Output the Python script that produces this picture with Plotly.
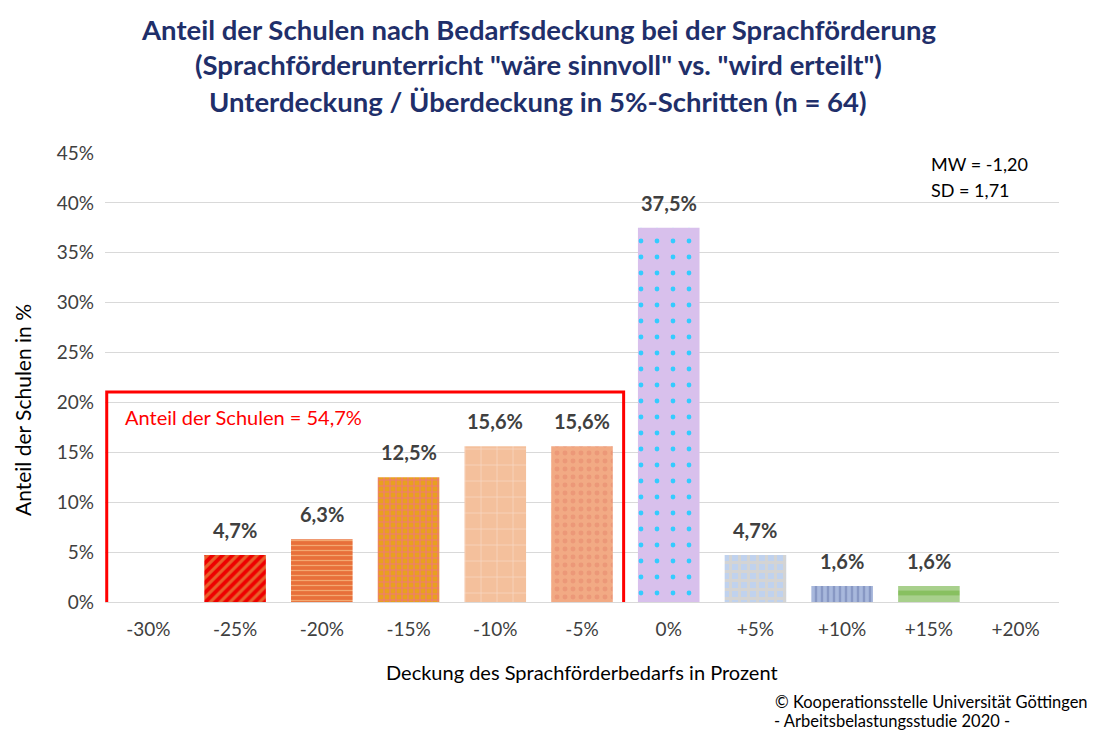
import plotly.graph_objects as go

categories = ["-30%", "-25%", "-20%", "-15%", "-10%", "-5%", "0%", "+5%", "+10%", "+15%", "+20%"]
values = [0, 4.7, 6.3, 12.5, 15.6, 15.6, 37.5, 4.7, 1.6, 1.6, 0]
bg_colors = ["#FFFFFF", "#EE0000", "#E8703A", "#E8A020", "#F4C09C", "#F2AA84", "#D8C0EC", "#C0D2EE", "#A8B8DC", "#A8D08C", "#FFFFFF"]
fg_colors = ["#FFFFFF", "#E8602C", "#F4A870", "#F07878", "#F8D8C8", "#EC9878", "#33CCFF", "#D4D4D4", "#8898C4", "#88C060", "#FFFFFF"]
shapes = ["", "/", "-", "+", "+", ".", ".", "+", "|", "-", ""]
sizes = [8, 7, 5, 6, 16, 8, 16, 9, 6, 16, 8]
solid = [0.3, 0.45, 0.25, 0.35, 0.08, 0.3, 0.07, 0.55, 0.4, 0.3, 0.3]

FONT = "Lato"
TXT = "#404040"

W, H = 1087, 723
L, R, T, B = 97, 36, 145, 129
PW, PH = W - L - R, H - T - B


def px(x):
    return (x - 8 - L) / PW


def py(y):
    return (H - B - (y - 8)) / PH


fig = go.Figure()
for c, v, bg, fg, sh, sz, so in zip(categories, values, bg_colors, fg_colors, shapes, sizes, solid):
    fig.add_trace(go.Bar(
        x=[c], y=[v], width=0.71,
        marker=dict(color=bg, line=dict(width=0),
                    pattern=dict(shape=sh, fgcolor=fg, bgcolor=bg, fgopacity=1,
                                 size=sz, solidity=so, fillmode="replace")),
        hoverinfo="skip",
    ))
    if v > 0:
        fig.add_annotation(x=c, y=v, text=f"{v:.1f}%".replace(".", ","), showarrow=False,
                           yshift=25, font=dict(family=FONT, size=20, color=TXT, weight="bold"))

fig.add_shape(type="rect", xref="x", yref="y", x0=-0.48, x1=5.48, y0=-0.8, y1=21.05,
              line=dict(color="#FF0000", width=3), fillcolor="rgba(0,0,0,0)")
fig.add_annotation(x=-0.29, y=18.55, xref="x", yref="y", xanchor="left", yanchor="middle",
                   text="Anteil der Schulen = 54,7%",
                   showarrow=False, font=dict(family=FONT, size=20, color="#FF0000"))

fig.add_annotation(xref="paper", yref="paper", x=px(929), y=py(164), xanchor="left", yanchor="middle",
                   text="MW = -1,20", showarrow=False, font=dict(family=FONT, size=18, color="#000000"))
fig.add_annotation(xref="paper", yref="paper", x=px(929), y=py(190), xanchor="left", yanchor="middle",
                   text="SD = 1,71", showarrow=False, font=dict(family=FONT, size=18, color="#000000"))

fig.add_annotation(xref="paper", yref="paper", x=px(22), y=py(410), xanchor="center", yanchor="middle",
                   text="Anteil der Schulen in %", textangle=-90,
                   showarrow=False, font=dict(family=FONT, size=21, color="#000000"))

fig.add_annotation(xref="paper", yref="paper", x=px(582), y=py(672), xanchor="center", yanchor="middle",
                   text="Deckung des Sprachförderbedarfs in Prozent",
                   showarrow=False, font=dict(family=FONT, size=20, color="#000000"))

fig.add_annotation(xref="paper", yref="paper", x=px(1090), y=py(702), xanchor="right", yanchor="middle",
                   text="© Kooperationsstelle Universität Göttingen",
                   showarrow=False, font=dict(family=FONT, size=16.5, color="#000000"))
fig.add_annotation(xref="paper", yref="paper", x=px(772), y=py(721), xanchor="left", yanchor="middle",
                   text="- Arbeitsbelastungsstudie 2020 -",
                   showarrow=False, font=dict(family=FONT, size=16.5, color="#000000"))

title_lines = ["Anteil der Schulen nach Bedarfsdeckung bei der Sprachförderung",
               "(Sprachförderunterricht \"wäre sinnvoll\" vs. \"wird erteilt\")",
               "Unterdeckung / Überdeckung in 5%-Schritten (n = 64)"]
for line, yy in zip(title_lines, [29, 65, 101]):
    fig.add_annotation(xref="paper", yref="paper", x=px(538), y=py(yy), xanchor="center", yanchor="middle",
                       text=line, showarrow=False,
                       font=dict(family=FONT, size=27.5, color="#1F2F6A", weight="bold"))

fig.update_layout(
    width=W, height=H,
    margin=dict(l=L, r=R, t=T, b=B),
    paper_bgcolor="#FFFFFF", plot_bgcolor="#FFFFFF",
    showlegend=False,
    font=dict(family=FONT, size=19, color=TXT),
    xaxis=dict(type="category", categoryorder="array", categoryarray=categories,
               range=[-0.5, len(categories) - 0.5],
               showgrid=False, zeroline=False, showline=False, ticks="", ticklabelstandoff=14,
               tickfont=dict(family=FONT, size=19, color=TXT)),
    yaxis=dict(range=[0, 45], dtick=5, ticksuffix="%", showgrid=True, gridcolor="#D9D9D9", gridwidth=1,
               zeroline=True, zerolinecolor="#D9D9D9", zerolinewidth=1, showline=False, ticks="",
               ticklabelstandoff=10,
               tickfont=dict(family=FONT, size=19, color=TXT)),
)

fig.write_html("out.html")
